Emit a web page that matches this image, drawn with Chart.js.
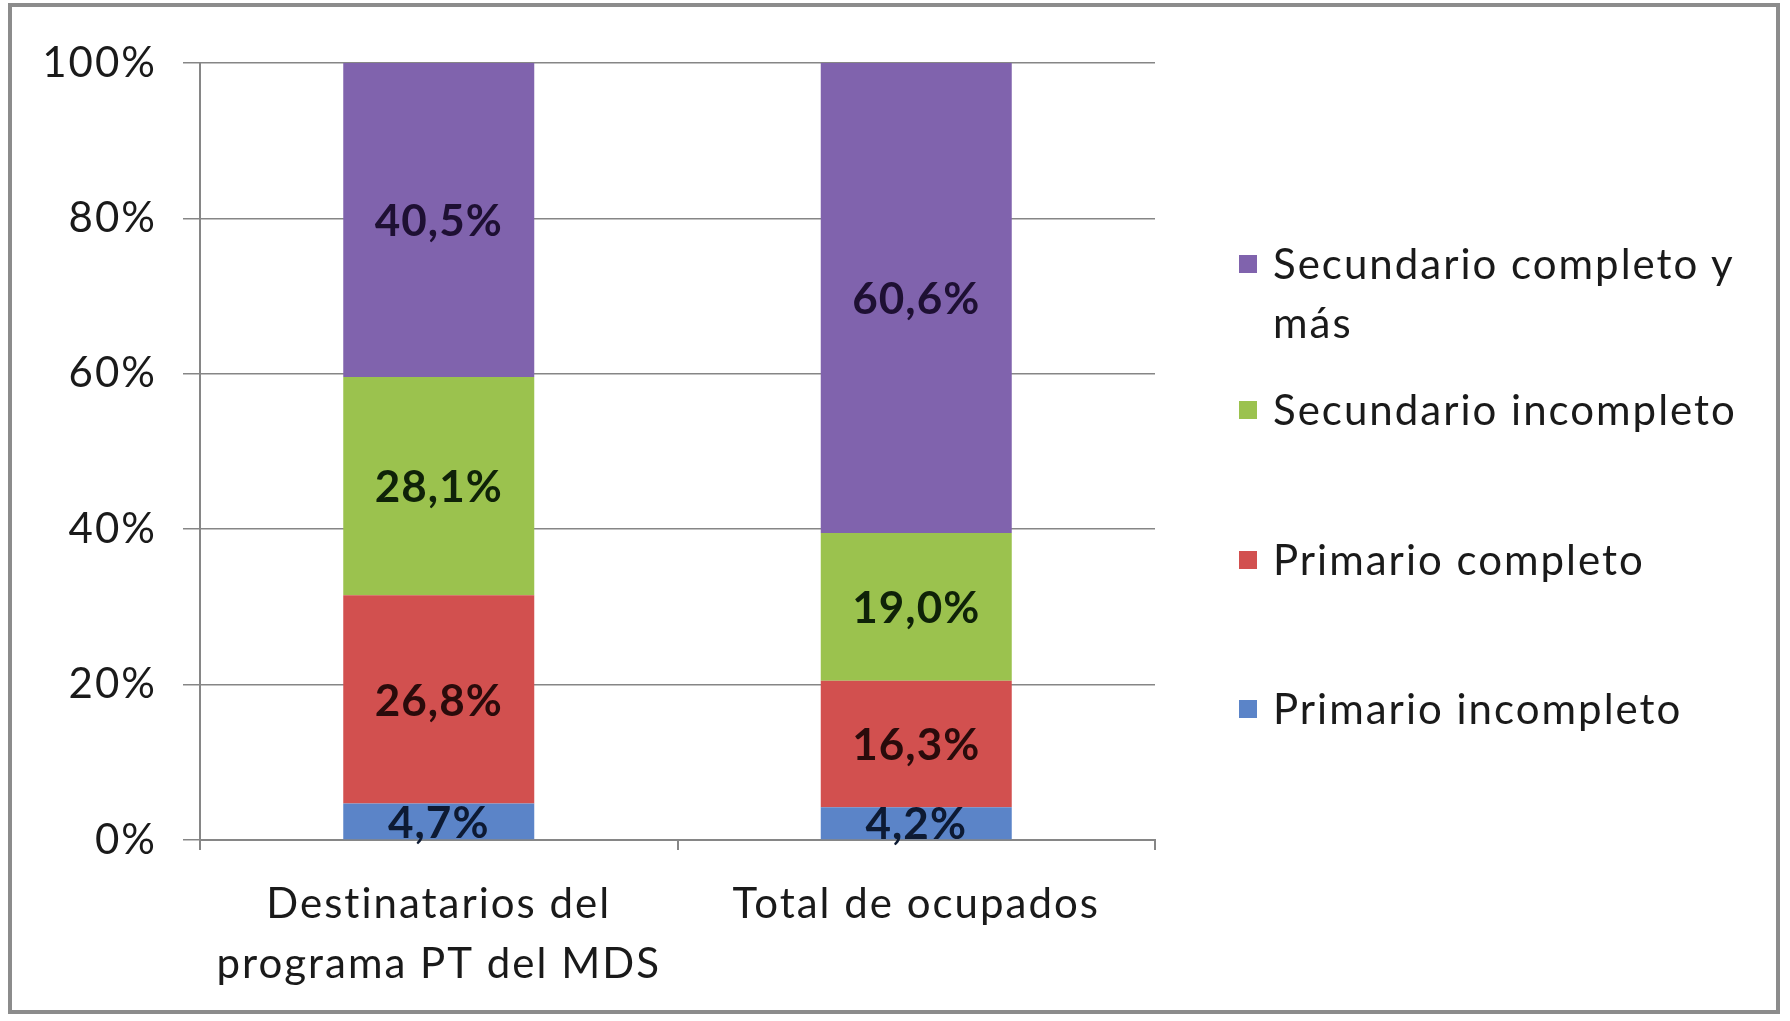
<!DOCTYPE html>
<html>
<head>
<meta charset="utf-8">
<script src="https://cdn.jsdelivr.net/npm/chart.js@4.4.1/dist/chart.umd.min.js"></script>
<style>
  html, body { margin: 0; padding: 0; background: #fff; }
  #wrap { position: relative; width: 1790px; height: 1021px; overflow: hidden; }
  #frame { position: absolute; left: 8px; top: 3px; width: 1772px; height: 1011px; border: 4px solid #8c8c8c; box-sizing: border-box; pointer-events: none; }
  #legend { position: absolute; left: 1239px; top: 0; font-family: Lato, sans-serif; font-size: 42px; letter-spacing: 2px; color: #1a1a1a; }
  .item { position: absolute; left: 0; white-space: nowrap; line-height: 59px; }
  .box { position: absolute; left: 0; width: 18px; height: 18px; }
  .txt { position: absolute; left: 34px; }
</style>
</head>
<body>
<div id="wrap">
  <canvas id="chart" width="1790" height="1021"></canvas>
  <div id="legend"></div>
  <div id="frame"></div>
</div>
<script>
// categories
const categories = [['Destinatarios del', 'programa PT del MDS'], 'Total de ocupados'];

// series (bottom to top of the stack)
const seriesNames = ['Primario incompleto', 'Primario completo', 'Secundario incompleto', 'Secundario completo y más'];
const primarioIncompleto = [4.7, 4.2];
const primarioCompleto = [26.8, 16.3];
const secundarioIncompleto = [28.1, 19.0];
const secundarioCompleto = [40.5, 60.6];

const yTicks = [0, 20, 40, 60, 80, 100];

const colors = ['#5b84c8', '#d2504f', '#9bc24e', '#8063ad'];
const labelColors = ['#0d1a33', '#2a0b0b', '#0f2208', '#1e1033'];

// wider letter spacing for the axis text (original font is wider than Lato)
const spacing = {
    id: 'spacing',
    beforeUpdate(chart) { chart.ctx.letterSpacing = '2px'; }
};

// draws the value inside each bar segment
const segmentLabels = {
    id: 'segmentLabels',
    afterDatasetsDraw(chart) {
        const ctx = chart.ctx;
        ctx.save();
        ctx.font = 'bold 44px Lato, sans-serif';
        ctx.letterSpacing = '1px';
        ctx.textAlign = 'center';
        ctx.textBaseline = 'middle';
        chart.data.datasets.forEach((ds, i) => {
            chart.getDatasetMeta(i).data.forEach((bar, j) => {
                const p = bar.getProps(['x', 'y', 'base'], true);
                ctx.fillStyle = labelColors[i];
                ctx.fillText(ds.data[j].toFixed(1).replace('.', ',') + '%', p.x, (p.y + p.base) / 2 + 2);
            });
        });
        ctx.restore();
    }
};

const chart = new Chart(document.getElementById('chart'), {
    type: 'bar',
    data: {
        labels: categories,
        datasets: [primarioIncompleto, primarioCompleto, secundarioIncompleto, secundarioCompleto].map((d, i) => ({
            label: seriesNames[i],
            data: d,
            backgroundColor: colors[i],
            borderWidth: 0,
            barPercentage: 0.4,
            categoryPercentage: 1
        }))
    },
    options: {
        responsive: false,
        animation: false,
        layout: { padding: { left: 0, right: 635, top: 63, bottom: 0 } },
        plugins: { legend: { display: false }, tooltip: { enabled: false } },
        scales: {
            x: {
                stacked: true,
                afterFit: s => { s.height = 181; },
                grid: { drawOnChartArea: false, color: '#868686', lineWidth: 2, tickLength: 10 },
                border: { color: '#868686', width: 2 },
                ticks: { color: '#1a1a1a', padding: 24, font: { family: 'Lato, sans-serif', size: 42, lineHeight: 1.43 } }
            },
            y: {
                stacked: true,
                min: 0,
                max: 100,
                afterFit: s => { s.width = 200; },
                afterBuildTicks: s => { s.ticks = yTicks.map(v => ({ value: v })); },
                grid: { color: '#868686', lineWidth: 1.5, tickLength: 17 },
                border: { color: '#868686', width: 2 },
                ticks: { color: '#1a1a1a', padding: 26, font: { family: 'Lato, sans-serif', size: 42 }, callback: v => v + '%' }
            }
        }
    },
    plugins: [spacing, segmentLabels]
});

// legend (reverse order, like the original)
const legendLines = [['Secundario completo y', 'más'], ['Secundario incompleto'], ['Primario completo'], ['Primario incompleto']];
const legendTops = [234, 380, 530, 679];
const legend = document.getElementById('legend');
legendLines.forEach((lines, k) => {
    const i = seriesNames.length - 1 - k;
    const item = document.createElement('div');
    item.className = 'item';
    item.style.top = legendTops[k] + 'px';
    const box = document.createElement('div');
    box.className = 'box';
    box.style.background = colors[i];
    box.style.top = '21px';
    const txt = document.createElement('div');
    txt.className = 'txt';
    txt.innerHTML = lines.join('<br>');
    item.appendChild(box);
    item.appendChild(txt);
    legend.appendChild(item);
});
</script>
</body>
</html>
